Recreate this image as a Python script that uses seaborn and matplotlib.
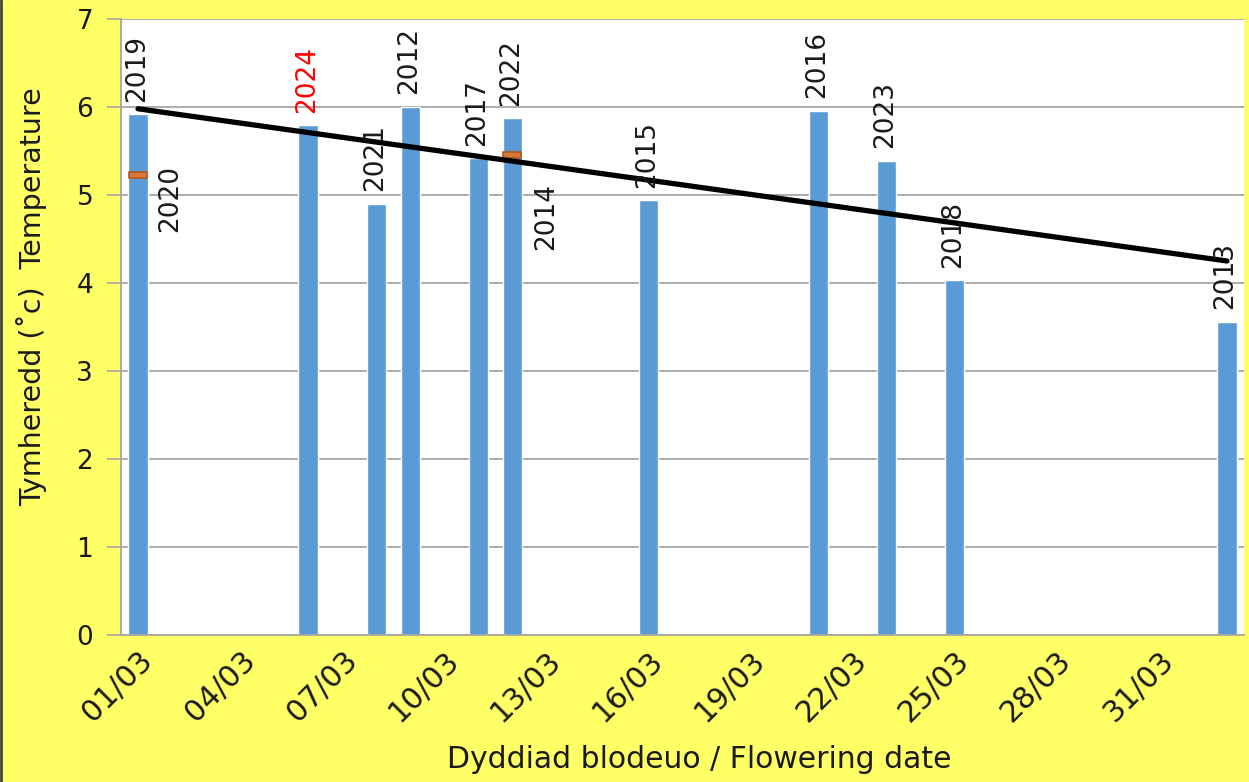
import matplotlib
matplotlib.use("Agg")
import matplotlib.pyplot as plt
import matplotlib.transforms as mtransforms
from matplotlib.path import Path
import seaborn as sns
import pandas as pd

# ---------------- data ----------------
bar_dates = ["01/03", "06/03", "08/03", "09/03", "11/03", "12/03",
             "16/03", "21/03", "23/03", "25/03", "02/04"]
bar_years = ["2019", "2024", "2021", "2012", "2017", "2022",
             "2015", "2016", "2023", "2018", "2013"]
bar_temps = [5.92, 5.79, 4.90, 6.00, 5.42, 5.87, 4.94, 5.96, 5.39, 4.03, 3.56]

mark_dates = ["01/03", "12/03"]
mark_years = ["2020", "2014"]
mark_temps = [5.23, 5.45]

trend_dates = ["01/03", "02/04"]
trend_temps = [5.98, 4.25]

tick_labels = ["01/03", "04/03", "07/03", "10/03", "13/03", "16/03",
               "19/03", "22/03", "25/03", "28/03", "31/03"]
y_ticks = [0, 1, 2, 3, 4, 5, 6, 7]

highlight_year = "2024"


def day_num(s):
    d, m = s.split("/")
    return int(d) + (31 if int(m) == 4 else 0)


bar_x = [day_num(s) for s in bar_dates]
mark_x = [day_num(s) for s in mark_dates]
trend_x = [day_num(s) for s in trend_dates]
tick_x = [day_num(s) for s in tick_labels]

df = pd.DataFrame({"day": bar_x, "temp": bar_temps, "year": bar_years})

# ---------------- style ----------------
YELLOW = "#FFFF66"
BLUE = "#5B9BD5"
GRID = "#A6A6A6"
TXT = "#1a1a1a"

sns.set_theme(style="white")
plt.rcParams["font.family"] = ["DejaVu Sans"]

fig = plt.figure(figsize=(12.49, 7.82), dpi=100, facecolor=YELLOW)
ax = fig.add_axes([121 / 1249, 1 - 635 / 782, (1244 - 121) / 1249, (635 - 19) / 782])
ax.set_facecolor("white")

sns.barplot(data=df, x="day", y="temp", native_scale=True, width=0.57,
            color=BLUE, saturation=1, errorbar=None, ax=ax, zorder=2)

ax.set_xlim(min(bar_x) - 0.5, max(bar_x) + 0.5)
ax.set_ylim(0, 7)
ax.set_yticks(y_ticks)
ax.set_yticklabels([str(v) for v in y_ticks], fontsize=19, color=TXT)
ax.set_xticks(tick_x)
ax.set_xticklabels(tick_labels, fontsize=21.5, color=TXT, rotation=45,
                   ha="right", va="top", rotation_mode="anchor")
ax.tick_params(axis="x", length=0, pad=8)
ax.tick_params(axis="y", length=10, width=1.2, color=GRID, pad=10, left=True)

for x in ax.get_xticklabels():
    x.set_transform(x.get_transform() + mtransforms.ScaledTranslation(0 / 72, 0, fig.dpi_scale_trans))

ax.yaxis.grid(True, color=GRID, linewidth=1.3, zorder=0)
ax.xaxis.grid(False)
ax.set_axisbelow(True)
for side in ["top", "right"]:
    ax.spines[side].set_visible(False)
for side in ["left", "bottom"]:
    ax.spines[side].set_color(GRID)
    ax.spines[side].set_linewidth(1.3)

# orange markers (second series)
rect = Path([(-1, -0.38), (1, -0.38), (1, 0.38), (-1, 0.38), (-1, -0.38)],
            [Path.MOVETO, Path.LINETO, Path.LINETO, Path.LINETO, Path.CLOSEPOLY])
ax.plot(mark_x, mark_temps, linestyle="none", marker=rect, markersize=13,
        markerfacecolor="#D9773A", markeredgecolor="#B5561E", markeredgewidth=1.2, zorder=4)

# trend line
ax.plot(trend_x, trend_temps, color="black", linewidth=3.8, zorder=5,
        solid_capstyle="round")

# bar labels
for x, y, yr in zip(bar_x, bar_temps, bar_years):
    col = "#FF0000" if yr == highlight_year else TXT
    ax.annotate(yr, (x, y), xytext=(-1, 9), textcoords="offset points",
                rotation=90, ha="center", va="bottom", fontsize=19, color=col,
                zorder=6)

# marker labels
mark_offsets = [(23, -17), (24, -44)]
for x, y, yr, off in zip(mark_x, mark_temps, mark_years, mark_offsets):
    ax.annotate(yr, (x, y), xytext=off, textcoords="offset points",
                rotation=90, ha="center", va="center", fontsize=19, color=TXT,
                zorder=6)

ax.set_xlabel("Dyddiad blodeuo / Flowering date", fontsize=21.5, color=TXT)
ax.set_ylabel("Tymheredd (˚c)  Temperature", fontsize=20.5, color=TXT)
ax.xaxis.set_label_coords(0.515, -0.178)
ax.yaxis.set_label_coords(-0.066, 0.55)

# left dark border of the figure
fig.add_artist(plt.Line2D([0.001, 0.001], [0, 1], transform=fig.transFigure,
                          color="#444444", linewidth=2))

fig.savefig("out.png", dpi=100, facecolor=YELLOW)
